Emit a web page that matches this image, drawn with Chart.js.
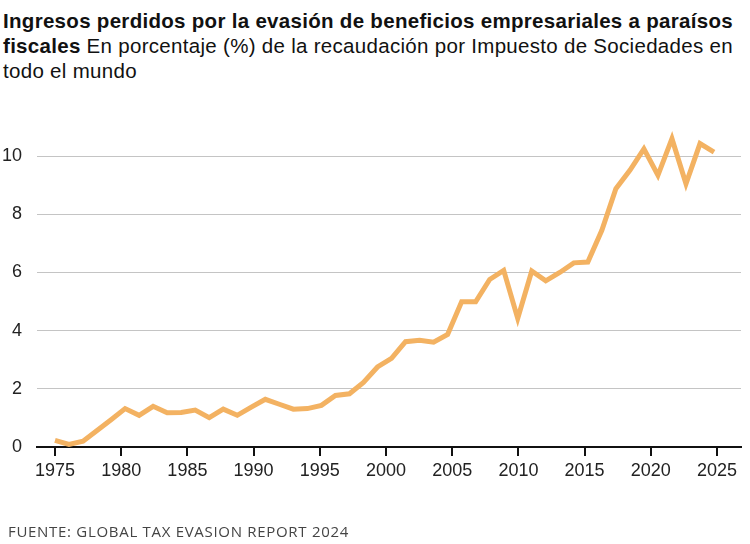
<!DOCTYPE html>
<html>
<head>
<meta charset="utf-8">
<script src="https://cdn.jsdelivr.net/npm/chart.js@4"></script>
<style>
  body { margin: 0; background: #fff; }
  #wrap { position: relative; width: 750px; height: 544px; }
  #title { position: absolute; left: 3px; top: 8px; width: 747px; font-family: "Liberation Sans", Arial, sans-serif; font-size: 20.5px; letter-spacing: 0.3px; line-height: 25px; color: #111; }
  #title b { font-weight: 700; }
  #source { position: absolute; left: 8px; top: 521px; font-family: "Open Sans", sans-serif; font-size: 15px; letter-spacing: 0.7px; color: #444; }
  canvas { position: absolute; left: 0; top: 0; }
</style>
</head>
<body>
<div id="wrap">
  <div id="title"><b>Ingresos perdidos por la evasión de beneficios empresariales a paraísos fiscales</b> En porcentaje (%) de la recaudación por Impuesto de Sociedades en todo el mundo</div>
  <canvas id="chart" width="750" height="544"></canvas>
  <div id="source">FUENTE: GLOBAL TAX EVASION REPORT 2024</div>
</div>
<script>
// Data (1975-2022)
const years = [];
for (let y = 1975; y <= 2022; y++) years.push(y);
const lostRevenue = [
  0.23, 0.09, 0.2, 0.57, 0.94, 1.32, 1.09, 1.4, 1.18, 1.19,
  1.27, 1.01, 1.3, 1.09, 1.37, 1.64, 1.47, 1.3, 1.32, 1.43,
  1.77, 1.83, 2.22, 2.75, 3.05, 3.62, 3.67, 3.6, 3.87, 4.99,
  4.99, 5.76, 6.07, 4.42, 6.05, 5.71, 6.0, 6.33, 6.36, 7.45,
  8.88, 9.51, 10.25, 9.34, 10.6, 9.05, 10.43, 10.14
];
const xTickLabels = [1975, 1980, 1985, 1990, 1995, 2000, 2005, 2010, 2015, 2020, 2025];
const yTickLabels = [0, 2, 4, 6, 8, 10];

const points = years.map((yr, i) => ({ x: yr, y: lostRevenue[i] }));

const ctx = document.getElementById('chart').getContext('2d');
new Chart(ctx, {
    type: 'line',
    data: {
        datasets: [{
            data: points,
            xAxisID: 'x',
            borderColor: '#F3B262',
            borderWidth: 5,
            pointRadius: 0,
            tension: 0,
            fill: false
        }]
    },
    options: {
        responsive: false,
        animation: false,
        layout: { padding: { left: 0, right: 9, top: 127, bottom: 0 } },
        plugins: {
            legend: { display: false },
            tooltip: { enabled: false }
        },
        scales: {
            // data axis: annual points, hidden
            x: {
                type: 'linear',
                display: false,
                min: 1975 - 18 / 14.036,
                max: 2022 + 27 / 14.036
            },
            // visible year axis
            x2: {
                type: 'linear',
                position: 'bottom',
                min: 1975 - 18 / 13.25,
                max: 2025 + 24 / 13.25,
                afterBuildTicks: (scale) => {
                    scale.ticks = xTickLabels.map(v => ({ value: v }));
                },
                afterFit: (scale) => { scale.height = 97; },
                border: { display: true, color: '#111', width: 2 },
                grid: { drawOnChartArea: false, drawTicks: true, tickLength: 9, color: '#111', lineWidth: 2 },
                ticks: {
                    color: '#222',
                    padding: 4,
                    maxRotation: 0,
                    autoSkip: false,
                    font: { family: '"Liberation Sans", Arial, sans-serif', size: 18 },
                    callback: (v) => String(v)
                }
            },
            y: {
                min: 0,
                max: 11,
                afterBuildTicks: (scale) => {
                    scale.ticks = yTickLabels.map(v => ({ value: v }));
                },
                afterFit: (scale) => { scale.width = 37; },
                border: { display: false },
                grid: { color: '#c4c4c4', lineWidth: 1, drawTicks: false },
                ticks: {
                    color: '#222',
                    padding: 15,
                    font: { family: '"Liberation Sans", Arial, sans-serif', size: 18 }
                }
            }
        }
    }
});
</script>
</body>
</html>
